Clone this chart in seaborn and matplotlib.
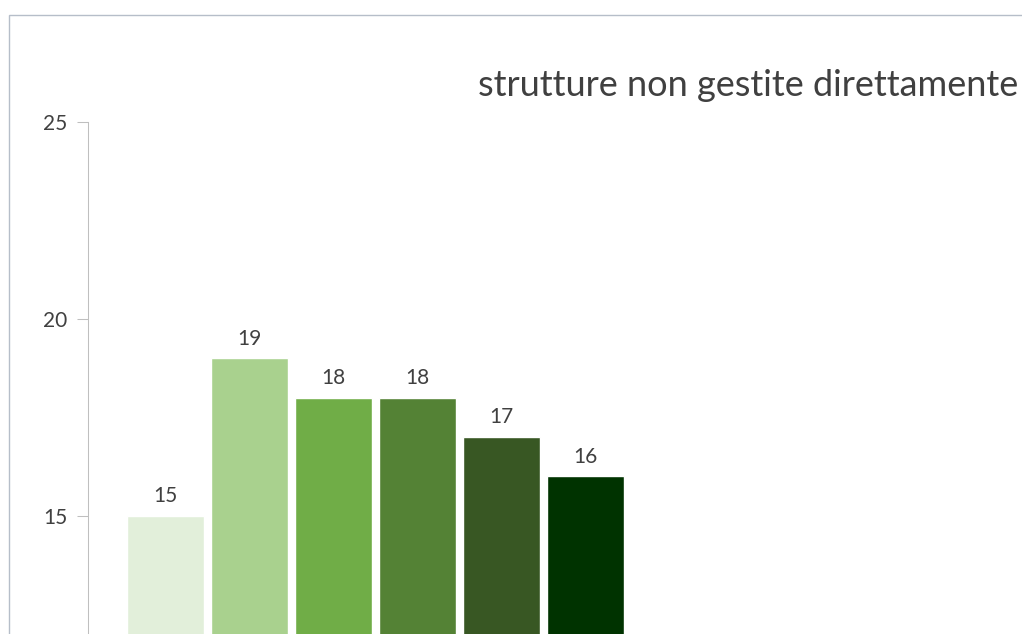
import numpy as np
import pandas as pd
import seaborn as sns
import matplotlib.pyplot as plt
from matplotlib.patches import Rectangle

# dati
categorie = ["2015", "2016", "2017", "2018", "2019", "2020"]
valori = [15, 19, 18, 18, 17, 16]
colori = ["#e2efda", "#a9d18e", "#70ad47", "#548235", "#385723", "#003300"]
titolo = "strutture non gestite direttamente"

sns.set_style("white")
plt.rcParams['font.family'] = ['Lato', 'DejaVu Sans']

W, H = 1022, 634
fig = plt.figure(figsize=(W / 100, H / 100), dpi=100)
ax = fig.add_axes([88 / W, 0, 1 - 88 / W, (634 - 122) / H])

df = pd.DataFrame({"cat": categorie, "val": valori})
sns.barplot(data=df, x="cat", y="val", hue="cat", palette=colori,
            legend=False, width=77 / 84, saturation=1, ax=ax)

for c in ax.containers:
    ax.bar_label(c, padding=7, fontsize=15, color="#404040")

ax.set_ylim(12, 25)
ax.set_xlim(-77.5 / 84, (1022 - 165.5) / 84)
ax.set_yticks([15, 20, 25])
ax.set_xticks([])
ax.set_xlabel("")
ax.set_ylabel("")
ax.tick_params(axis="y", length=8, width=0.75, color="#bfbfbf", pad=7,
               labelsize=15, labelcolor="#404040", left=True)
for s in ["top", "right", "bottom"]:
    ax.spines[s].set_visible(False)
ax.spines["left"].set_color("#bfbfbf")
ax.spines["left"].set_linewidth(0.75)

# cornice del grafico
fig.add_artist(Rectangle((8.5 / W, -0.2), 2, 1.2 - 14.5 / H, transform=fig.transFigure,
                         fill=False, edgecolor="#b6bec9", lw=1))

fig.text(478 / W, 1 - 96 / H, titolo, ha="left", va="baseline",
         fontsize=26, color="#404040")

plt.savefig("out.png", dpi=100)
